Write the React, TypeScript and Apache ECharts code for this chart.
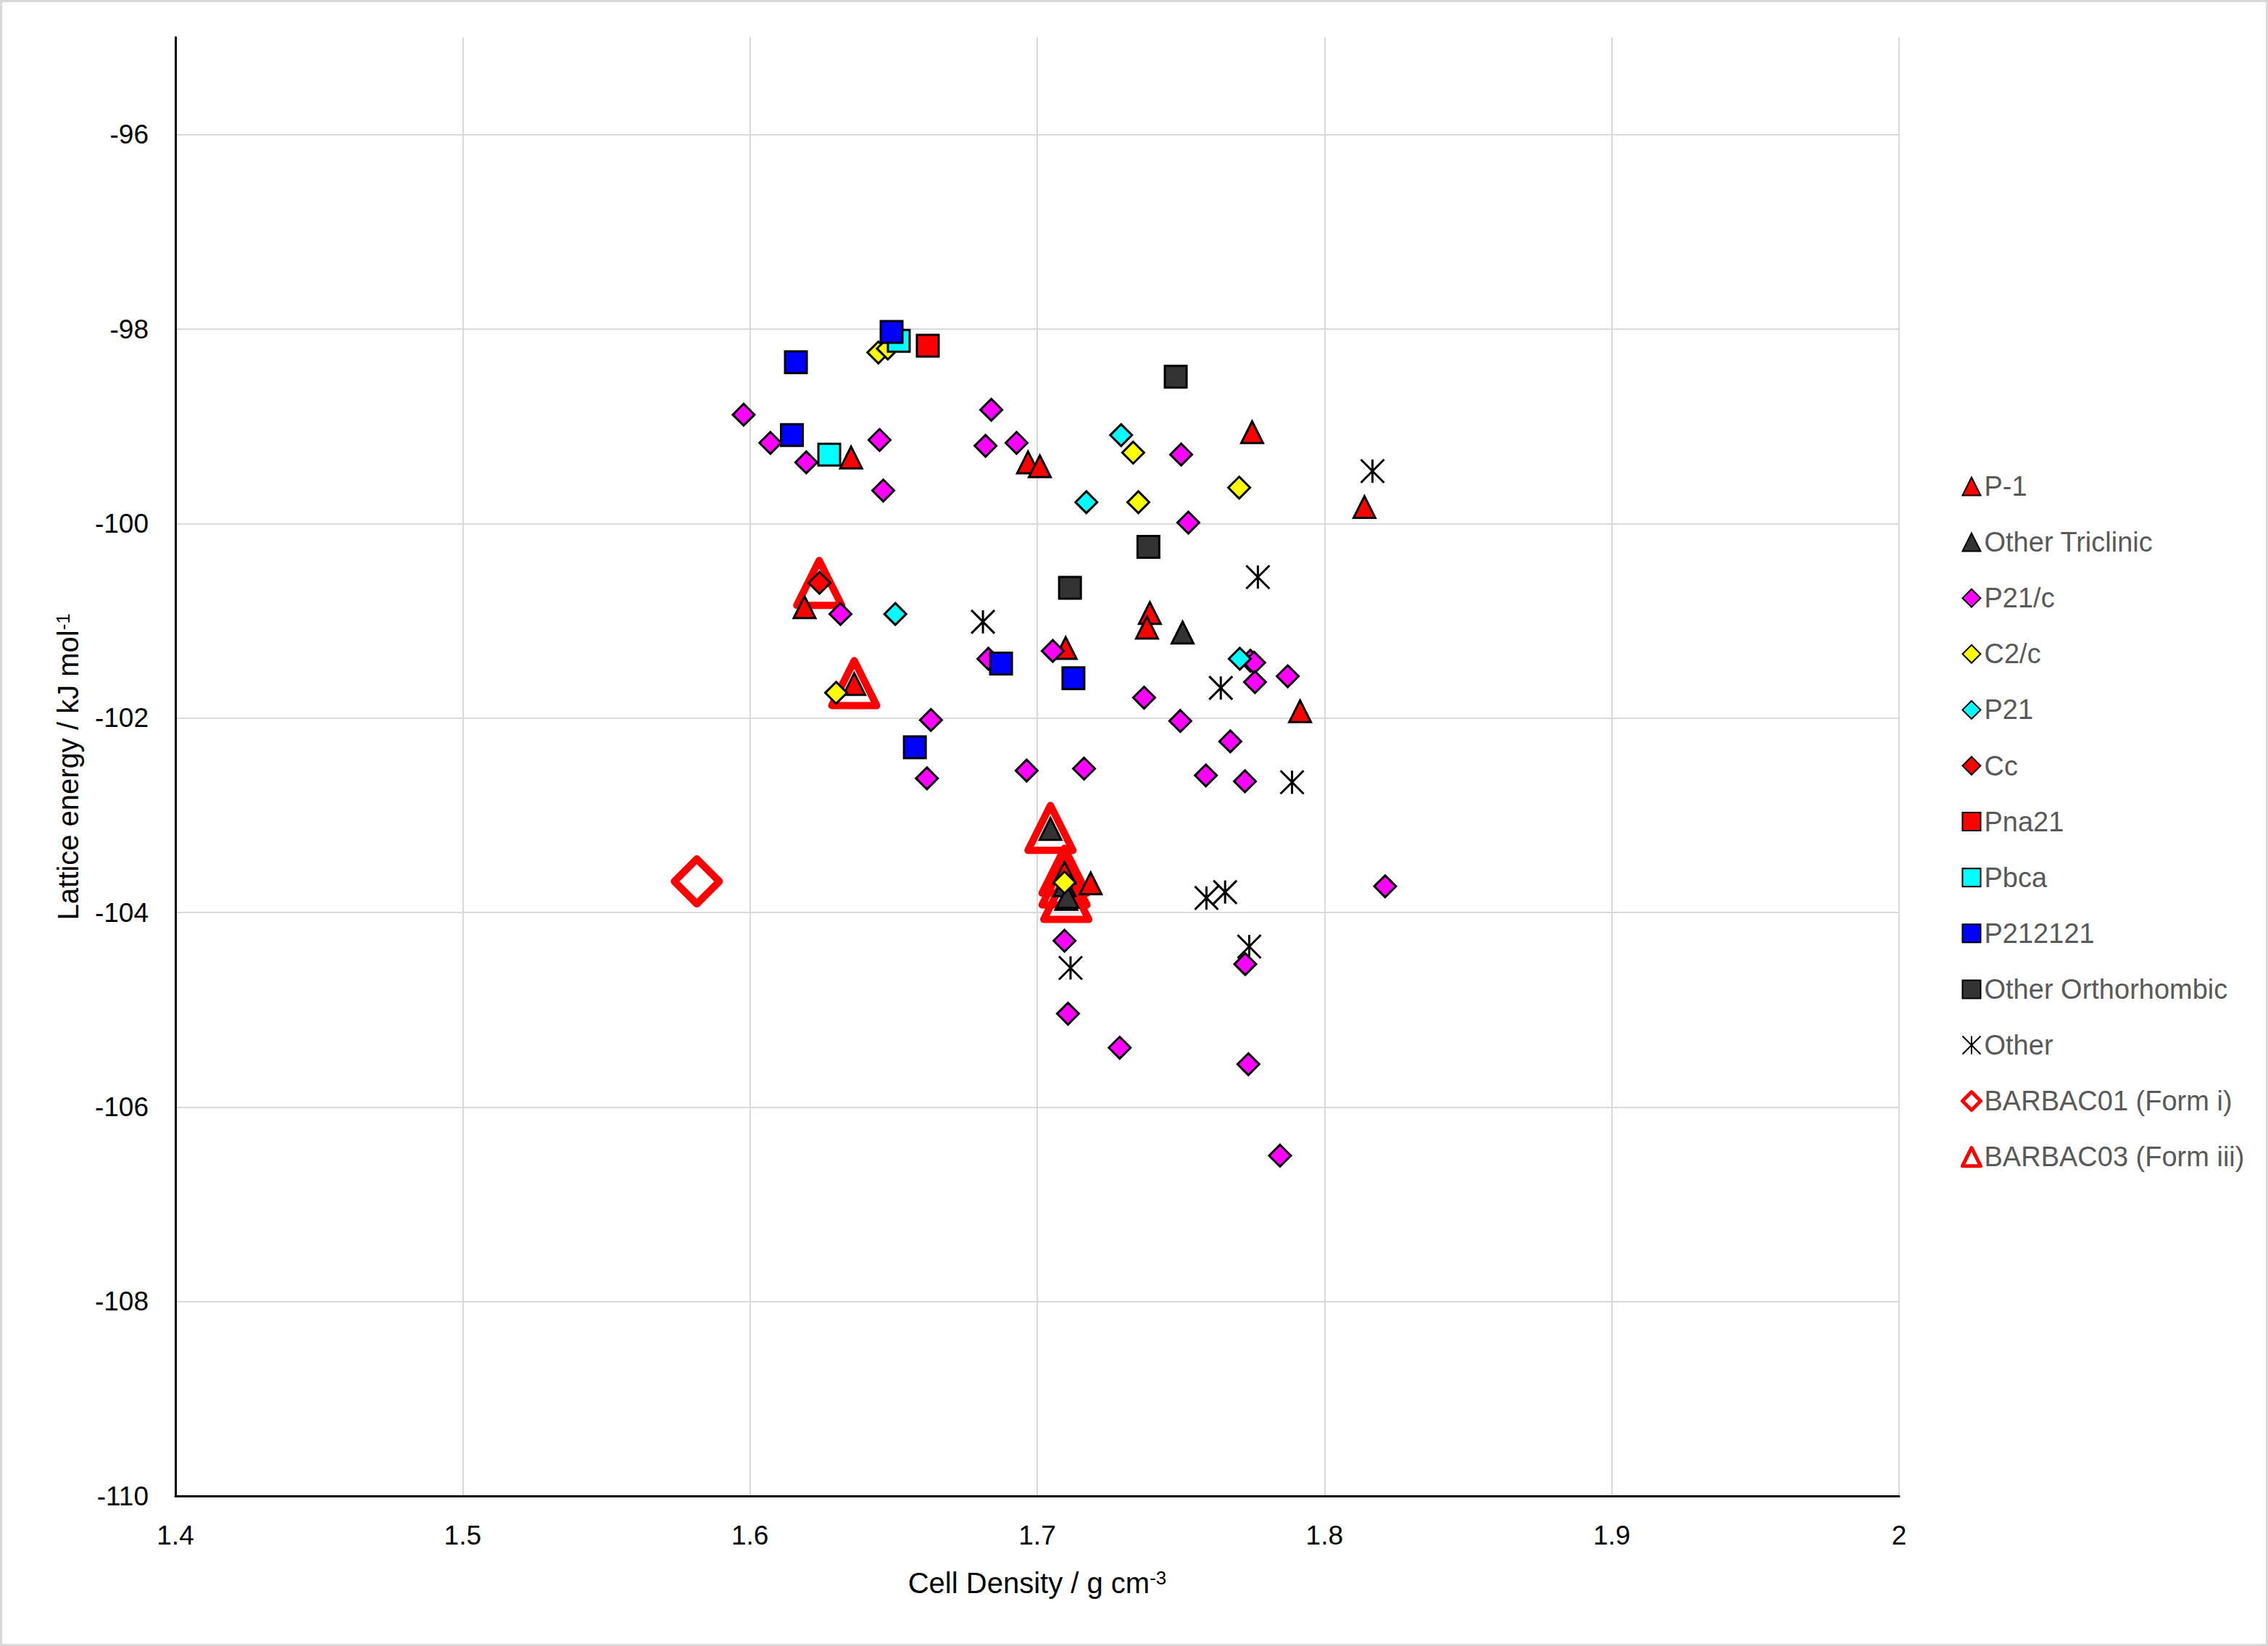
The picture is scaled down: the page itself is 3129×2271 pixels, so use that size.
import React, { useEffect, useRef } from 'react';
import * as echarts from 'echarts';

// ---- data: [cell density g cm-3, lattice energy kJ mol-1] ----
const seriesNames = [
  'P-1', 'Other Triclinic', 'P21/c', 'C2/c', 'P21', 'Cc', 'Pna21', 'Pbca', 'P212121',
  'Other Orthorhombic', 'Other', 'BARBAC01 (Form i)', 'BARBAC03 (Form iii)',
];

const P1 = [
  [1.6352, -99.32], [1.6968, -99.37], [1.7009, -99.41], [1.7748, -99.06], [1.8139, -99.83],
  [1.619, -100.86], [1.6363, -101.65], [1.7099, -101.28], [1.7392, -100.92], [1.7382, -101.07],
  [1.7915, -101.93], [1.7095, -103.59], [1.7186, -103.70], [1.7101, -103.86],
];
const otherTriclinic = [
  [1.7506, -101.12], [1.7046, -103.14], [1.7095, -103.72], [1.7105, -103.84],
];
const P21c = [
  [1.5978, -98.88], [1.6071, -99.17], [1.6196, -99.37], [1.6451, -99.14], [1.6464, -99.66],
  [1.684, -98.83], [1.682, -99.2], [1.6928, -99.17], [1.7501, -99.29], [1.7526, -99.99],
  [1.6315, -100.93], [1.663, -102.02], [1.6616, -102.62], [1.683, -101.39], [1.7054, -101.31],
  [1.7742, -101.41], [1.7755, -101.43], [1.7758, -101.63], [1.7372, -101.79], [1.7498, -102.03],
  [1.7672, -102.24], [1.6963, -102.54], [1.7163, -102.52], [1.7587, -102.59], [1.7723, -102.65],
  [1.7872, -101.57], [1.8211, -103.73], [1.7095, -104.29], [1.7724, -104.53], [1.7107, -105.04],
  [1.7287, -105.39], [1.7735, -105.56], [1.7845, -106.5],
];
const C2c = [
  [1.6447, -98.24], [1.648, -98.2], [1.7334, -99.27], [1.7352, -99.78], [1.7703, -99.63],
  [1.63, -101.74], [1.7095, -103.69],
];
const P21 = [[1.7292, -99.09], [1.7171, -99.78], [1.6506, -100.93], [1.7705, -101.39]];
const Cc = [[1.6242, -100.61]];
const Pna21 = [[1.6619, -98.17]];
const Pbca = [[1.6518, -98.12], [1.6276, -99.29]];
const P212121 = [
  [1.6493, -98.03], [1.616, -98.34], [1.6146, -99.09], [1.6874, -101.44], [1.7126, -101.59],
  [1.6574, -102.3],
];
const otherOrtho = [[1.7482, -98.49], [1.7387, -100.24], [1.7114, -100.66]];
const other = [
  [1.8167, -99.46], [1.7768, -100.55], [1.6811, -101.01], [1.7639, -101.69], [1.7887, -102.66],
  [1.7589, -103.85], [1.7654, -103.79], [1.7738, -104.35], [1.7116, -104.57],
];
const barbac01 = [[1.5815, -103.68]];
const barbac03 = [
  [1.6241, -100.61], [1.6363, -101.64], [1.7046, -103.13], [1.7095, -103.57], [1.7095, -103.69],
  [1.7101, -103.84],
];

const xMin = 1.4, xMax = 2, xStep = 0.1;
const yMin = -110, yMax = -95, yStep = 2;

const FONT = 'Liberation Sans';
const ASTERISK = 'path://M0 0L20 20M20 0L0 20M10 0L10 20';

function small(name: string, data: number[][], symbol: string, color: string, extra: any = {}) {
  return {
    type: 'scatter',
    name,
    data,
    symbol,
    symbolSize: 30,
    itemStyle: { color, borderColor: '#000', borderWidth: 3, opacity: 1, ...extra },
    emphasis: { disabled: true },
  };
}

export default function App() {
  const ref = useRef<HTMLDivElement>(null);
  useEffect(() => {
    const chart = echarts.init(ref.current!, null, { renderer: 'svg' });
    const bigStyle = {
      color: 'none', borderColor: '#FF0000', borderWidth: 10, borderJoin: 'round', opacity: 1,
    };
    const option: any = {
      animation: false,
      backgroundColor: '#fff',
      textStyle: { fontFamily: FONT },
      grid: { left: 242, right: 509, top: 51.6, bottom: 207, containLabel: false },
      graphic: [
        {
          type: 'rect',
          shape: { x: 1.5, y: 1.5, width: 3126, height: 2268 },
          style: { fill: 'none', stroke: '#D9D9D9', lineWidth: 3 },
          silent: true,
        },
      ],
      xAxis: {
        type: 'value',
        min: xMin,
        max: xMax,
        interval: xStep,
        name: '{a|Cell Density / g cm}{s|-3}',
        nameLocation: 'middle',
        nameGap: 100,
        nameTextStyle: {
          rich: {
            a: { fontSize: 40, color: '#000', fontFamily: FONT },
            s: { fontSize: 26, color: '#000', fontFamily: FONT, verticalAlign: 'top' },
          },
        },
        axisLine: { show: true, onZero: false, lineStyle: { color: '#000', width: 3 } },
        axisTick: { show: false },
        axisLabel: { fontSize: 37, color: '#000', margin: 36, fontFamily: FONT },
        splitLine: { show: true, showMinLine: false, lineStyle: { color: '#D9D9D9', width: 2 } },
      },
      yAxis: {
        type: 'value',
        min: yMin,
        max: yMax,
        interval: yStep,
        name: '{a|Lattice energy / kJ mol}{s|-1}',
        nameLocation: 'middle',
        nameRotate: 90,
        nameGap: 128,
        nameTextStyle: {
          rich: {
            a: { fontSize: 40, color: '#000', fontFamily: FONT },
            s: { fontSize: 26, color: '#000', fontFamily: FONT, verticalAlign: 'top' },
          },
        },
        axisLine: { show: true, onZero: false, lineStyle: { color: '#000', width: 3 } },
        axisTick: { show: false },
        axisLabel: { fontSize: 37, color: '#000', margin: 37, fontFamily: FONT, showMaxLabel: false },
        splitLine: {
          show: true,
          showMinLine: false,
          showMaxLine: false,
          lineStyle: { color: '#D9D9D9', width: 2 },
        },
      },
      legend: {
        orient: 'vertical',
        left: 2700,
        top: 646,
        itemWidth: 25,
        itemHeight: 25,
        itemGap: 37.1,
        textStyle: { fontSize: 38, color: '#595959', fontFamily: FONT, lineHeight: 40 },
        data: seriesNames.map((n) => ({
          name: n,
          itemStyle: { borderWidth: n.startsWith('BARBAC') ? 5 : 2, opacity: 1 },
        })),
      },
      series: [
        {
          type: 'scatter',
          name: 'BARBAC01 (Form i)',
          data: barbac01,
          symbol: 'diamond',
          symbolSize: 62,
          itemStyle: bigStyle,
          emphasis: { disabled: true },
        },
        {
          type: 'scatter',
          name: 'BARBAC03 (Form iii)',
          data: barbac03,
          symbol: 'triangle',
          symbolSize: 62,
          itemStyle: bigStyle,
          emphasis: { disabled: true },
        },
        small('P-1', P1, 'triangle', '#FF0000'),
        small('Other Triclinic', otherTriclinic, 'triangle', '#333333'),
        small('P21/c', P21c, 'diamond', '#FF00FF'),
        small('C2/c', C2c, 'diamond', '#FFFF00'),
        small('P21', P21, 'diamond', '#00FFFF'),
        small('Cc', Cc, 'diamond', '#FF0000'),
        small('Pna21', Pna21, 'rect', '#FF0000'),
        small('Pbca', Pbca, 'rect', '#00FFFF'),
        small('P212121', P212121, 'rect', '#0000FF'),
        small('Other Orthorhombic', otherOrtho, 'rect', '#333333'),
        {
          type: 'scatter',
          name: 'Other',
          data: other,
          symbol: ASTERISK,
          symbolSize: 32,
          itemStyle: { color: 'none', borderColor: '#000', borderWidth: 3, opacity: 1 },
          emphasis: { disabled: true },
        },
      ],
    };
    chart.setOption(option);
    return () => chart.dispose();
  }, []);
  return (
    <div
      ref={ref}
      style={{ position: 'fixed', left: 0, top: 0, width: 3129, height: 2271, background: '#fff' }}
    />
  );
}
